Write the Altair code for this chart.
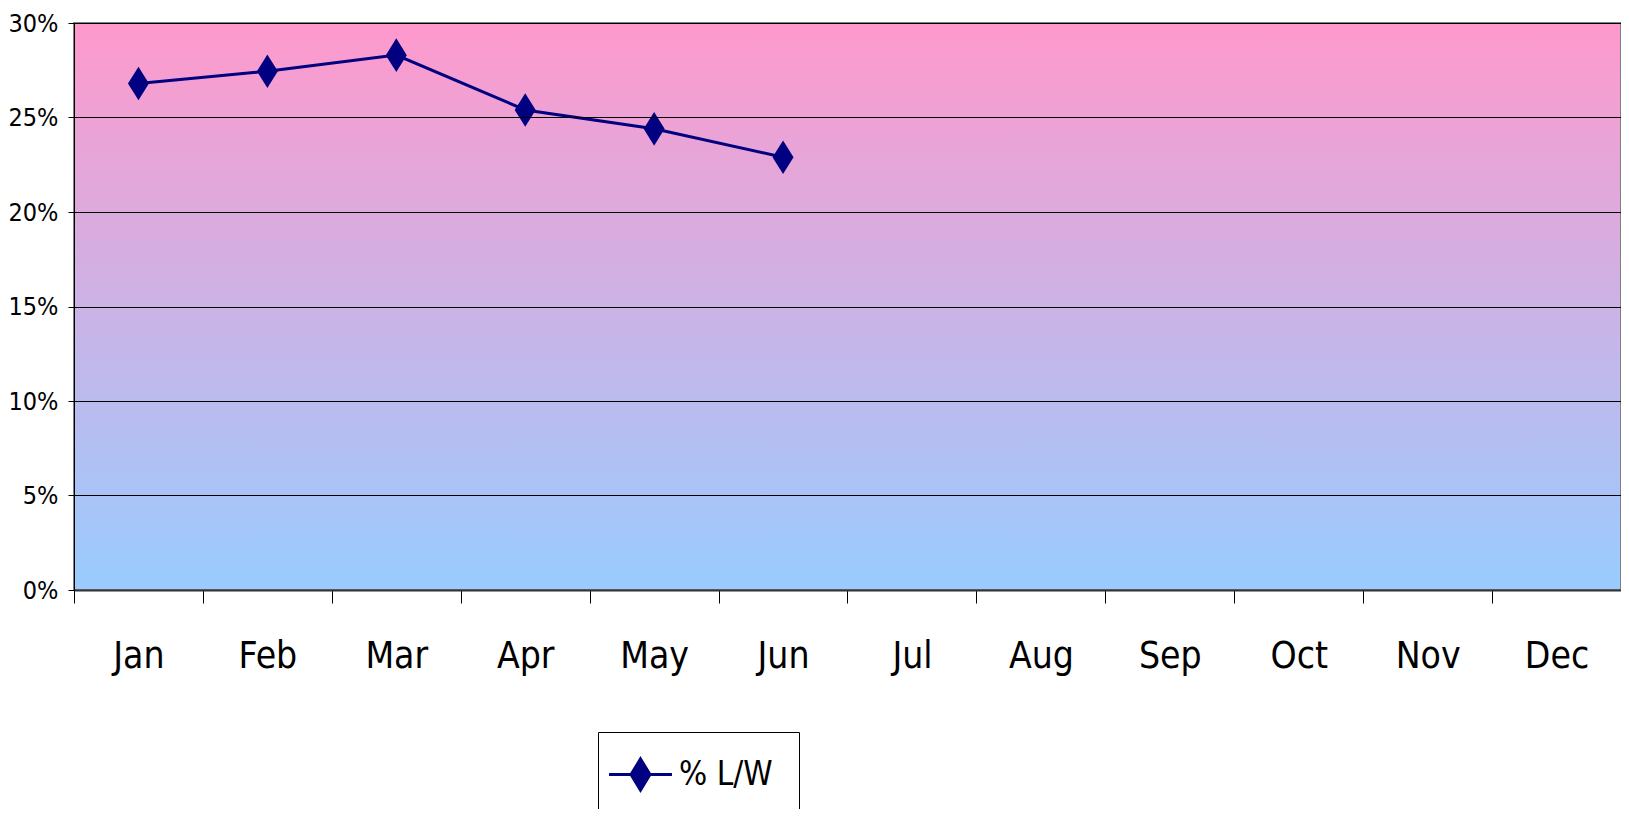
import altair as alt
import pandas as pd

months = ["Jan", "Feb", "Mar", "Apr", "May", "Jun", "Jul", "Aug", "Sep", "Oct", "Nov", "Dec"]
data_months = ["Jan", "Feb", "Mar", "Apr", "May", "Jun"]
values = [0.268, 0.2745, 0.283, 0.254, 0.244, 0.229]
series_name = "% L/W"
y_ticks = [0, 0.05, 0.10, 0.15, 0.20, 0.25, 0.30]

df = pd.DataFrame({"month": data_months, "value": values, "series": [series_name] * len(values)})
bg = pd.DataFrame({"lo": [0.0], "hi": [0.30]})

FONT = "Liberation Sans Narrow, DejaVu Sans Condensed, Arial Narrow, sans-serif"
NAVY = "#000080"

x_enc = alt.X("month:N", sort=months, scale=alt.Scale(domain=months, paddingInner=0, paddingOuter=0),
              axis=alt.Axis(title=None, tickBand="extent", tickSize=13, tickColor="#000000",
                            domainColor="#333333", domainWidth=2, labelFontSize=37, labelFont=FONT,
                            labelColor="#000000", labelBaseline="middle", labelPadding=53,
                            labelAngle=0, grid=False, zindex=1))
y_scale = alt.Scale(domain=[0, 0.30], nice=False)
y_axis = alt.Axis(title=None, values=y_ticks, format=".0%", tickSize=6, tickColor="#000000",
                  domainColor="#000000", domainWidth=1, labelFontSize=25, labelFont=FONT,
                  labelColor="#000000", labelPadding=10, grid=True, gridColor="#000000",
                  gridWidth=1, zindex=1)

grad = alt.LinearGradient(gradient="linear",
                          stops=[alt.GradientStop(color="#FF99CC", offset=0),
                                 alt.GradientStop(color="#99CCFF", offset=1)],
                          x1=0, x2=0, y1=0, y2=1)

background = alt.Chart(bg).mark_rect(fill=grad).encode(
    y=alt.Y("lo:Q", scale=y_scale, axis=y_axis), y2="hi:Q")

border = alt.Chart(bg).mark_rect(fillOpacity=0, stroke="#808080", strokeWidth=2).encode(
    y=alt.Y("lo:Q", scale=y_scale), y2="hi:Q")

legend_path = "M-2.86,0L2.86,0M0,-1.41L0.86,0L0,1.41L-0.86,0Z"

line = alt.Chart(df).mark_line(strokeWidth=3).encode(
    x=x_enc,
    y=alt.Y("value:Q", scale=y_scale),
    color=alt.Color("series:N", scale=alt.Scale(range=[NAVY]),
                    legend=alt.Legend(title=None, orient="none", legendX=524, legendY=709,
                                      symbolType=legend_path, symbolSize=484,
                                      symbolFillColor=NAVY, symbolStrokeColor=NAVY,
                                      symbolStrokeWidth=3, labelFontSize=33, labelFont=FONT,
                                      labelColor="#000000", labelOffset=22, padding=26,
                                      strokeColor="#000000", fillColor="#FFFFFF",
                                      cornerRadius=0)),
)

points = alt.Chart(df).mark_point(filled=True, shape="M0,-1.6L1,0L0,1.6L-1,0Z", size=441,
                                  color=NAVY, opacity=1, strokeWidth=0).encode(
    x=alt.X("month:N", sort=months),
    y=alt.Y("value:Q", scale=y_scale),
)

chart = alt.layer(background, line, points, border).properties(
    width=1547, height=567,
    padding={"left": 66, "top": 15, "right": 0, "bottom": 219},
    autosize=alt.AutoSizeParams(type="none"),
    background="#FFFFFF",
).configure_view(stroke=None)

chart.save("out.html", embed_options={"renderer": "svg", "actions": False})
